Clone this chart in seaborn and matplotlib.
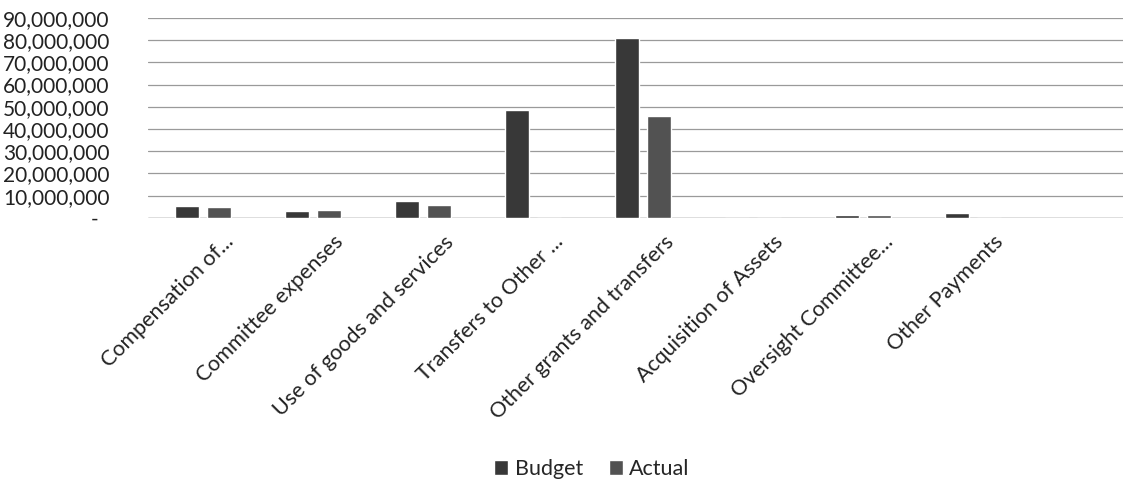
import matplotlib
matplotlib.use("Agg")
import matplotlib.pyplot as plt
import matplotlib.ticker as mticker
import matplotlib.transforms as mtransforms
import pandas as pd
import seaborn as sns

categories = [
    "Compensation of...",
    "Committee expenses",
    "Use of goods and services",
    "Transfers to Other ...",
    "Other grants and transfers",
    "Acquisition of Assets",
    "Oversight Committee...",
    "Other Payments",
]
budget = [5.5e6, 3.3e6, 7.4e6, 48.5e6, 81.0e6, 0, 1.3e6, 2.4e6]
actual = [4.7e6, 3.7e6, 5.9e6, 0, 45.7e6, 0, 1.1e6, 0]
series = ["Budget", "Actual"]
y_ticks = [0, 10e6, 20e6, 30e6, 40e6, 50e6, 60e6, 70e6, 80e6, 90e6]

df = pd.DataFrame({
    "Category": categories * 2,
    "Series": [series[0]] * len(categories) + [series[1]] * len(categories),
    "Amount": budget + actual,
})

sns.set_theme(style="white")
plt.rcParams["font.family"] = ["Lato", "DejaVu Sans"]

fig = plt.figure(figsize=(11.23, 4.82), dpi=100)
ax = fig.add_axes([0.132, 0.548, 0.868, 0.415])

palette = {"Budget": "#383838", "Actual": "#525252"}
sns.barplot(data=df, x="Category", y="Amount", hue="Series", order=categories,
            hue_order=series, palette=palette, width=0.58, gap=0.25,
            saturation=1, ax=ax, legend=True)

ax.set_ylim(0, 90e6)
ax.set_xlim(-0.5, 8.36)
ax.set_yticks(y_ticks)
ax.yaxis.set_major_formatter(
    mticker.FuncFormatter(lambda v, _: "-  " if v == 0 else f"{v:,.0f}"))
ax.yaxis.grid(True, color="#9a9a9a", linewidth=0.9)
ax.set_axisbelow(True)
for s in ax.spines.values():
    s.set_visible(False)
ax.axhline(0, color="#8a8a8a", linewidth=1.0, zorder=0.5)
ax.tick_params(axis="both", length=0, colors="#222222")
ax.tick_params(axis="y", labelsize=15, pad=28)
ax.tick_params(axis="x", labelsize=15.5, pad=10)

# shift the rotated category labels so their ends sit just right of each group
shift = mtransforms.ScaledTranslation(0.2, 0, fig.dpi_scale_trans)
for lbl in ax.get_xticklabels():
    lbl.set_rotation(45)
    lbl.set_ha("right")
    lbl.set_va("top")
    lbl.set_rotation_mode("anchor")
    lbl.set_transform(lbl.get_transform() + shift)
ax.set_xlabel("")
ax.set_ylabel("")

handles, labels = ax.get_legend_handles_labels()
ax.get_legend().remove()
fig.legend(handles, labels, loc="center", bbox_to_anchor=(0.527, 0.027),
           ncol=2, frameon=False, fontsize=15.5, handlelength=0.65,
           handleheight=0.65, handletextpad=0.3, columnspacing=1.2)

fig.savefig("out.png", dpi=100)
